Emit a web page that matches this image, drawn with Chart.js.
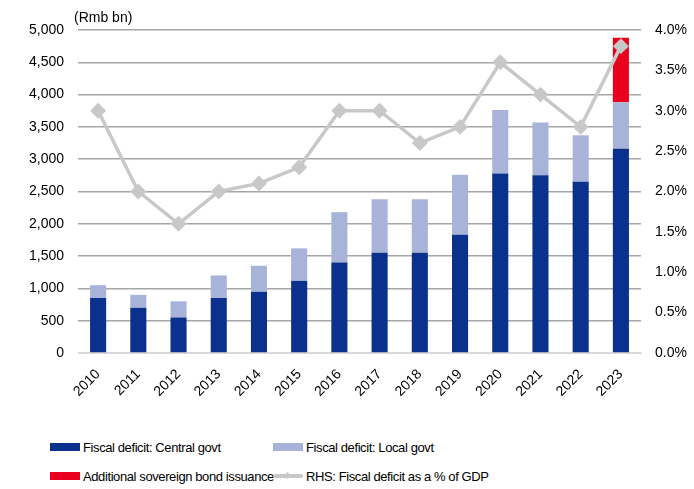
<!DOCTYPE html>
<html>
<head>
<meta charset="utf-8">
<script src="https://cdn.jsdelivr.net/npm/chart.js@4"></script>
<style>
  html, body { margin: 0; padding: 0; background: #fff; }
  #wrap { position: relative; width: 694px; height: 489px; font-family: "Liberation Sans", Arial, sans-serif; }
  #chartBox { position: absolute; left: 0; top: 0; width: 694px; height: 410px; }
  #unit { position: absolute; left: 74px; top: 9px; font-size: 14px; color: #000; }
  .leg { position: absolute; font-size: 13px; letter-spacing: -0.4px; color: #000; white-space: nowrap; display: flex; align-items: center; height: 16px; }
  .sw { display: inline-block; width: 30px; height: 8px; margin-right: 3px; }
  .ln { display: inline-block; width: 30px; height: 4px; margin-right: 3px; position: relative; background: #c8c8c8; border-radius: 2px; }
  .ln::after { content: ""; position: absolute; left: 12px; top: -1px; width: 5px; height: 5px; background: #c8c8c8; transform: rotate(45deg); }
</style>
</head>
<body>
<div id="wrap">
  <div id="chartBox"><canvas id="c" width="694" height="410"></canvas></div>
  <div id="unit">(Rmb bn)</div>
  <div class="leg" style="left:50px; top:439px;"><span class="sw" style="background:#0a318d"></span>Fiscal deficit: Central govt</div>
  <div class="leg" style="left:273px; top:439px;"><span class="sw" style="background:#a7b3d9"></span>Fiscal deficit: Local govt</div>
  <div class="leg" style="left:50px; top:468px;"><span class="sw" style="background:#e8001c"></span>Additional sovereign bond issuance</div>
  <div class="leg" style="left:273px; top:468px;"><span class="ln"></span>RHS: Fiscal deficit as a % of GDP</div>
</div>
<script>
const years = ['2010','2011','2012','2013','2014','2015','2016','2017','2018','2019','2020','2021','2022','2023'];
const centralDeficit = [850, 700, 550, 850, 950, 1120, 1400, 1550, 1550, 1830, 2780, 2750, 2650, 3160];
const localDeficit   = [200, 200, 250, 350, 400, 500, 780, 830, 830, 930, 980, 820, 720, 720];
const extraBonds     = [0, 0, 0, 0, 0, 0, 0, 0, 0, 0, 0, 0, 0, 1000];
const deficitPctGdp  = [3.0, 2.0, 1.6, 2.0, 2.1, 2.3, 3.0, 3.0, 2.6, 2.8, 3.6, 3.2, 2.8, 3.8];

const font = { family: '"Liberation Sans", Arial, sans-serif', size: 14 };
Chart.defaults.font = font;
Chart.defaults.color = '#000';

new Chart(document.getElementById('c'), {
  type: 'bar',
  data: {
    labels: years,
    datasets: [
      { type: 'line', label: 'RHS: Fiscal deficit as a % of GDP', data: deficitPctGdp, yAxisID: 'y1',
        borderColor: '#c8c8c8', backgroundColor: '#c8c8c8', borderWidth: 3.5,
        pointStyle: 'rectRot', pointRadius: 5.5, pointHoverRadius: 5.5, tension: 0, order: 0 },
      { label: 'Fiscal deficit: Central govt', data: centralDeficit, backgroundColor: '#0a318d', stack: 's', order: 1 },
      { label: 'Fiscal deficit: Local govt', data: localDeficit, backgroundColor: '#a7b3d9', stack: 's', order: 1 },
      { label: 'Additional sovereign bond issuance', data: extraBonds, backgroundColor: '#e8001c', stack: 's', order: 1 }
    ]
  },
  options: {
    responsive: false,
    animation: false,
    layout: { padding: { top: 30, left: 0, right: 0, bottom: 0 } },
    datasets: { bar: { categoryPercentage: 1, barPercentage: 0.4 } },
    plugins: { legend: { display: false }, tooltip: { enabled: false } },
    scales: {
      x: {
        stacked: true,
        grid: { display: false, drawTicks: false },
        border: { display: true, color: '#d9d9d9', width: 1 },
        ticks: { minRotation: 45, maxRotation: 45, padding: 13, font },
        afterFit(s) { s.height = 410 - 353; }
      },
      y: {
        stacked: true, min: 0, max: 5000,
        ticks: { stepSize: 500, padding: 14, font, callback: v => v.toLocaleString('en-US') },
        grid: { color: ctx => ctx.tick.value === 0 ? '#d9d9d9' : '#a6a6a6', lineWidth: 1.5, drawTicks: false },
        border: { display: false },
        afterFit(s) { s.width = 78; }
      },
      y1: {
        position: 'right', min: 0, max: 4,
        ticks: { stepSize: 0.5, padding: 14, font, callback: v => v.toFixed(1) + '%' },
        grid: { display: false, drawTicks: false },
        border: { display: false },
        afterFit(s) { s.width = 53; }
      }
    }
  }
});
</script>
</body>
</html>
